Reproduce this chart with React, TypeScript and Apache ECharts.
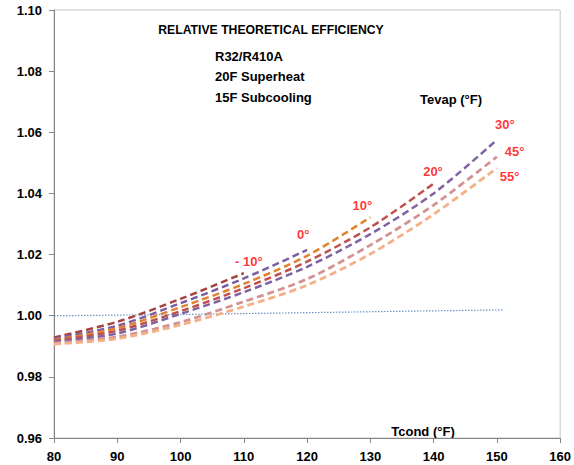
import React, { useEffect, useRef } from "react";
import * as echarts from "echarts";

const tcond = [80, 90, 100, 110, 120, 130, 140, 150];
const tevapNames = ["-10", "0", "10", "20", "30", "45", "55"];
const sM10 = [0.9929, 0.998, 1.0055, 1.0139];
const s0 = [0.9925, 0.9967, 1.0041, 1.0122, 1.0215];
const s10 = [0.9921, 0.9959, 1.0028, 1.0104, 1.0196, 1.0322];
const s20 = [0.9918, 0.9951, 1.0015, 1.009, 1.0177, 1.0289, 1.0432];
const s30 = [0.9915, 0.9942, 1.0006, 1.0077, 1.016, 1.0267, 1.04, 1.0575];
const s45 = [0.991, 0.9931, 0.9979, 1.0046, 1.012, 1.0231, 1.0362, 1.052];
const s55 = [0.9907, 0.9925, 0.997, 1.003, 1.01, 1.0202, 1.0332, 1.0483];
const seriesValues = [sM10, s0, s10, s20, s30, s45, s55];
const seriesColors = ["#A8423F", "#7B5FA2", "#E0832F", "#C0504D", "#7E62A1", "#D39392", "#F6B087"];

const baseX = [80, 90, 100, 110, 120, 130, 140, 151];
const baseY = [1.0, 1.0002, 1.0004, 1.0007, 1.001, 1.0013, 1.0016, 1.0019];

const labelText = ["- 10°", "0°", "10°", "20°", "30°", "45°", "55°"];
const labelX = [110.8, 119.4, 128.75, 139.9, 151.25, 152.8, 152.0];
const labelY = [1.0176, 1.0267, 1.0362, 1.0473, 1.0624, 1.0536, 1.0457];

const xTicks = { min: 80, max: 160, interval: 10 };
const yTicks = { min: 0.96, max: 1.1, interval: 0.02 };

const FONT = "'Liberation Sans', Arial, sans-serif";
const NARROW = "'Liberation Sans Narrow', 'Arial Narrow', 'Liberation Sans', sans-serif";

export default function App() {
  const ref = useRef<HTMLDivElement>(null);
  useEffect(() => {
    if (!ref.current) return;
    const chart = echarts.init(ref.current, null, { renderer: "svg" });
    const lineSeries = seriesValues.map((vals, i) => ({
      name: tevapNames[i],
      type: "line",
      data: vals.map((v, j) => [tcond[j], v]),
      smooth: 0.3,
      showSymbol: false,
      symbol: "none",
      lineStyle: { color: seriesColors[i], width: i >= 5 ? 2.8 : 2.5, type: [7, 4] },
      z: 3,
    }));
    chart.setOption({
      animation: false,
      backgroundColor: "#ffffff",
      grid: { left: 54, right: 8, top: 10, bottom: 27, show: true, borderColor: "#C4C4C4", borderWidth: 1 },
      xAxis: {
        type: "value",
        min: xTicks.min,
        max: xTicks.max,
        interval: xTicks.interval,
        splitLine: { show: false },
        axisLine: { lineStyle: { color: "#868686", width: 1 } },
        axisTick: { show: true, inside: false, length: 5, lineStyle: { color: "#868686" } },
        axisLabel: { color: "#000", fontWeight: "bold", fontSize: 13, fontFamily: FONT, margin: 12 },
      },
      yAxis: {
        type: "value",
        min: yTicks.min,
        max: yTicks.max,
        interval: yTicks.interval,
        splitLine: { show: false },
        axisLine: { show: true, lineStyle: { color: "#868686", width: 1 } },
        axisTick: { show: true, inside: false, length: 5, lineStyle: { color: "#868686" } },
        axisLabel: {
          color: "#000",
          fontWeight: "bold",
          fontSize: 13,
          fontFamily: FONT,
          margin: 12,
          formatter: (v: number) => v.toFixed(2),
        },
      },
      series: [
        {
          name: "base",
          type: "line",
          data: baseX.map((x, j) => [x, baseY[j]]),
          showSymbol: false,
          symbol: "none",
          lineStyle: { color: "#4F81BD", width: 1.2, type: [1.5, 1.5], opacity: 0.85 },
          z: 2,
        },
        ...lineSeries,
        {
          name: "labels",
          type: "scatter",
          symbolSize: 0,
          silent: true,
          data: labelX.map((x, i) => ({ value: [x, labelY[i]], name: labelText[i] })),
          label: {
            show: true,
            position: "inside",
            formatter: "{b}",
            color: "#FF0000",
            fontWeight: "bold",
            fontSize: 13,
            fontFamily: FONT,
          },
          z: 5,
        },
      ],
      graphic: [
        {
          type: "text",
          x: 271,
          y: 30,
          scaleX: 0.94,
          style: {
            text: "RELATIVE THEORETICAL EFFICIENCY",
            fill: "#000",
            font: `bold 13px ${NARROW}`,
            textAlign: "center",
            textVerticalAlign: "middle",
          },
        },
        {
          type: "text",
          x: 215,
          y: 56,
          style: { text: "R32/R410A", fill: "#000", font: `bold 13px ${FONT}`, textAlign: "left", textVerticalAlign: "middle" },
        },
        {
          type: "text",
          x: 215,
          y: 76,
          style: { text: "20F Superheat", fill: "#000", font: `bold 13px ${FONT}`, textAlign: "left", textVerticalAlign: "middle" },
        },
        {
          type: "text",
          x: 215,
          y: 97,
          style: { text: "15F Subcooling", fill: "#000", font: `bold 13px ${FONT}`, textAlign: "left", textVerticalAlign: "middle" },
        },
        {
          type: "text",
          x: 451,
          y: 99,
          style: { text: "Tevap (°F)", fill: "#000", font: `bold 13px ${FONT}`, textAlign: "center", textVerticalAlign: "middle" },
        },
        {
          type: "text",
          x: 423,
          y: 431,
          style: { text: "Tcond (°F)", fill: "#000", font: `bold 13px ${FONT}`, textAlign: "center", textVerticalAlign: "middle" },
        },
      ],
    });
    return () => chart.dispose();
  }, []);
  return <div ref={ref} style={{ width: 574, height: 465, position: "absolute", left: 0, top: 0 }} />;
}
